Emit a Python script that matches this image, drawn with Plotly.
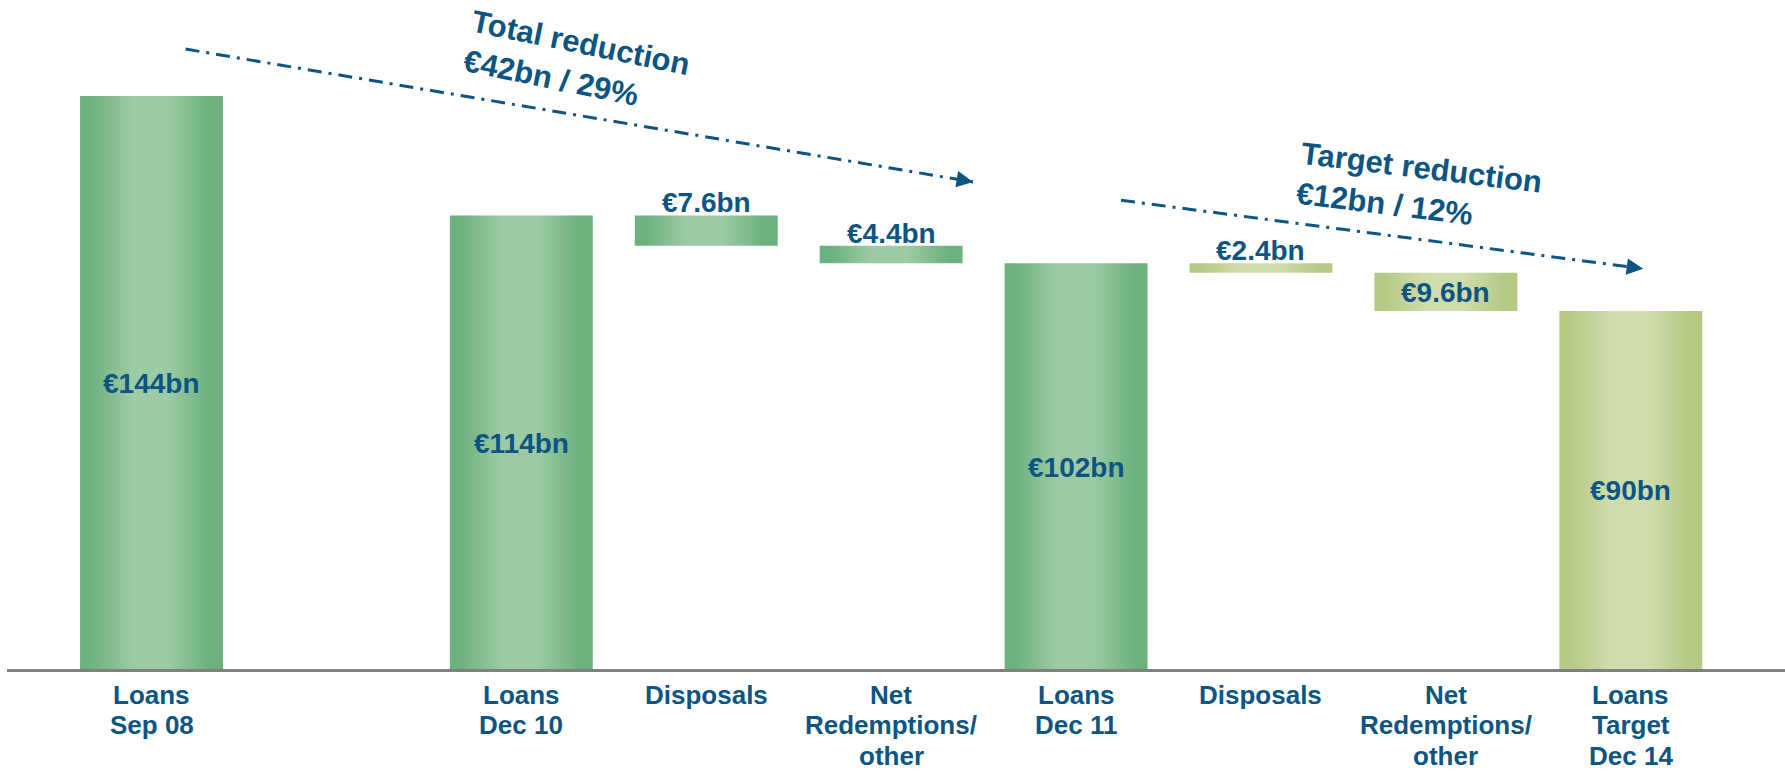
import math
import plotly.graph_objects as go

# ---- data -----------------------------------------------------------------
categories = [
    "Loans<br>Sep 08", "Loans<br>Dec 10", "Disposals", "Net<br>Redemptions/<br>other",
    "Loans<br>Dec 11", "Disposals", "Net<br>Redemptions/<br>other", "Loans<br>Target<br>Dec 14",
]
slots = [0, 2, 3, 4, 5, 6, 7, 8]
amounts_bn = [144, 114, 7.6, 4.4, 102, 2.4, 9.6, 90]
step_kind = ["total", "total", "step", "step", "total", "step", "step", "total"]
value_labels = ["€144bn", "€114bn", "€7.6bn", "€4.4bn", "€102bn", "€2.4bn", "€9.6bn", "€90bn"]
phase = ["actual", "actual", "actual", "actual", "actual", "target", "target", "target"]
reduction_notes = ["Total reduction<br>€42bn / 29%", "Target reduction<br>€12bn / 12%"]

# ---- styling ----------------------------------------------------------------
W, H = 1785, 773
M_L, M_R, M_T, M_B = 7, 0, 0, 104
X_RANGE = [-0.7815, 8.834]
Y_RANGE = [0, 168.13]
PX_X = (W - M_L - M_R) / (X_RANGE[1] - X_RANGE[0])
PX_Y = (H - M_T - M_B) / (Y_RANGE[1] - Y_RANGE[0])

BLUE = "#0c5583"
FONT = "Liberation Sans, Arial, sans-serif"
BAR_W = 0.773
GRADIENTS = {
    "actual": ("#6db17f", "#9bcaa4"),
    "target": ("#b6ca86", "#cfdcab"),
}


def gradient_scale(edge, mid):
    return [[0.0, edge], [0.08, edge], [0.36, mid], [0.62, mid], [0.9, edge], [1.0, edge]]


fig = go.Figure()
annotations = []

# waterfall bars: totals start from zero, steps hang from the running level
level = 0.0
for cat, x, v, kind, lab, ph in zip(categories, slots, amounts_bn, step_kind, value_labels, phase):
    if kind == "total":
        lo, hi = 0.0, v
        level = v
    else:
        hi = level
        lo = level - v
        level = lo
    x0, x1 = x - BAR_W / 2, x + BAR_W / 2
    edge, mid = GRADIENTS[ph]
    fig.add_trace(go.Scatter(
        x=[x0, x1, x1, x0, x0], y=[lo, lo, hi, hi, lo],
        mode="lines", line=dict(width=0, color="rgba(0,0,0,0)"),
        fill="toself",
        fillgradient=dict(type="horizontal", colorscale=gradient_scale(edge, mid)),
        hoverinfo="skip", showlegend=False,
    ))
    # value label: inside tall bars, just above thin ones
    if (hi - lo) * PX_Y >= 35:
        annotations.append(dict(
            x=x, y=(lo + hi) / 2, text=lab, showarrow=False, xanchor="center", yanchor="middle",
            yshift=-1, font=dict(family=FONT, size=28, color=BLUE, weight="bold"),
        ))
    else:
        annotations.append(dict(
            x=x, y=hi, text=lab, showarrow=False, xanchor="center", yanchor="bottom",
            yshift=-5, font=dict(family=FONT, size=28, color=BLUE, weight="bold"),
        ))
    # category label, one annotation per line for tight leading
    for i, line in enumerate(cat.split("<br>")):
        annotations.append(dict(
            x=x, xref="x", y=0, yref="paper", text=line, showarrow=False,
            xanchor="center", yanchor="top", yshift=-(9.5 + 30.5 * i), borderpad=0,
            font=dict(family=FONT, size=26, color=BLUE, weight="bold"),
        ))

# reduction trend arrows (dash-dot line + arrowhead)
trends = [((0.184, 155.8), (4.443, 122.4)), ((5.243, 117.8), (8.067, 100.6))]
for (xa, ya), (xb, yb) in trends:
    fig.add_trace(go.Scatter(
        x=[xa, xb], y=[ya, yb], mode="lines",
        line=dict(color=BLUE, width=3, dash="14px,7px,3px,7px"),
        hoverinfo="skip", showlegend=False,
    ))
    dxp, dyp = (xb - xa) * PX_X, (yb - ya) * PX_Y
    n = math.hypot(dxp, dyp)
    annotations.append(dict(
        x=xb, y=yb, ax=-dxp / n * 18, ay=dyp / n * 18, text="",
        showarrow=True, arrowhead=2, arrowwidth=3, arrowsize=1.1, arrowcolor=BLUE,
    ))

note_pos = [(2.301, 152.5, 11.5), (6.852, 120.9, 7.0)]
for txt, (nx, ny, ang) in zip(reduction_notes, note_pos):
    annotations.append(dict(
        x=nx, y=ny, text=txt, showarrow=False, textangle=ang, align="left",
        xanchor="center", yanchor="middle",
        font=dict(family=FONT, size=31, color=BLUE, weight="bold"),
    ))

fig.update_layout(
    width=W, height=H,
    margin=dict(l=M_L, r=M_R, t=M_T, b=M_B),
    paper_bgcolor="white", plot_bgcolor="white",
    xaxis=dict(range=X_RANGE, showgrid=False, zeroline=False, showticklabels=False,
               showline=True, linecolor="#808080", linewidth=3, fixedrange=True),
    yaxis=dict(range=Y_RANGE, showgrid=False, zeroline=False, showticklabels=False,
               showline=False, fixedrange=True),
    annotations=annotations,
    showlegend=False,
)

fig.write_html("out.html", config={"displayModeBar": False})
